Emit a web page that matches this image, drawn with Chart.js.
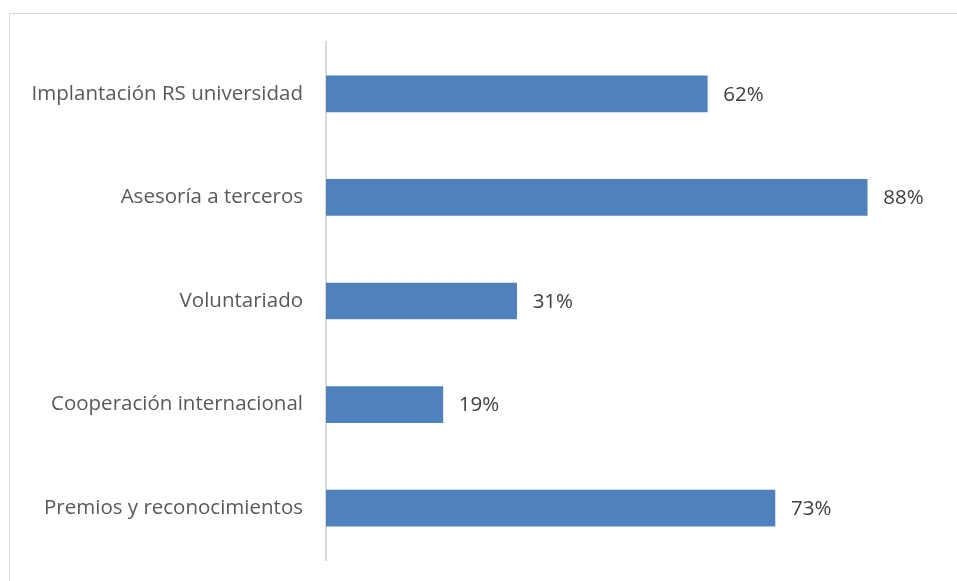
<!DOCTYPE html>
<html>
<head>
<meta charset="utf-8">
<script src="https://cdn.jsdelivr.net/npm/chart.js@4/dist/chart.umd.min.js"></script>
<style>
  body { margin: 0; background: #fff; overflow: hidden; }
  canvas { display: block; }
</style>
</head>
<body>
<canvas id="chart" width="957" height="581"></canvas>
<script>
// data
const categories = [
    "Implantación RS universidad",
    "Asesoría a terceros",
    "Voluntariado",
    "Cooperación internacional",
    "Premios y reconocimientos"
];
const values = [62, 88, 31, 19, 73];
const axisMax = 100;

const fontFamily = "'Open Sans', 'Liberation Sans', sans-serif";

// light frame around the chart, like the office chart border
const framePlugin = {
    id: 'frame',
    beforeDraw(chart) {
        const ctx = chart.ctx;
        ctx.save();
        ctx.strokeStyle = '#d9d9d9';
        ctx.lineWidth = 1;
        ctx.strokeRect(9.5, 13.5, 1000, 1000);
        ctx.restore();
    }
};

// value labels at the end of each bar
const valueLabels = {
    id: 'valueLabels',
    afterDatasetsDraw(chart) {
        const ctx = chart.ctx;
        const meta = chart.getDatasetMeta(0);
        ctx.save();
        ctx.fillStyle = '#404040';
        ctx.font = '20.5px ' + fontFamily;
        ctx.textAlign = 'left';
        ctx.textBaseline = 'middle';
        meta.data.forEach(function (bar, i) {
            ctx.fillText(values[i] + '%', bar.x + 16, bar.y + 1);
        });
        ctx.restore();
    }
};

new Chart(document.getElementById('chart'), {
    type: 'bar',
    data: {
        labels: categories,
        datasets: [{
            data: values,
            backgroundColor: '#4f81bd',
            borderWidth: 0,
            barThickness: 36
        }]
    },
    options: {
        indexAxis: 'y',
        responsive: false,
        animation: false,
        layout: {
            padding: { top: 42, bottom: 21, right: 16, left: 0 }
        },
        plugins: {
            legend: { display: false },
            tooltip: { enabled: false }
        },
        scales: {
            x: {
                display: false,
                min: 0,
                max: axisMax
            },
            y: {
                grid: { display: false, drawTicks: false },
                border: { display: true, color: '#d9d9d9', width: 2 },
                ticks: {
                    color: '#595959',
                    font: { family: fontFamily, size: 20.5 },
                    padding: 23
                },
                afterFit(scale) {
                    scale.width = 326;
                    // label padding should not shrink the plot area
                    scale.paddingTop = 0;
                    scale.paddingBottom = 0;
                }
            }
        }
    },
    plugins: [framePlugin, valueLabels]
});
</script>
</body>
</html>
